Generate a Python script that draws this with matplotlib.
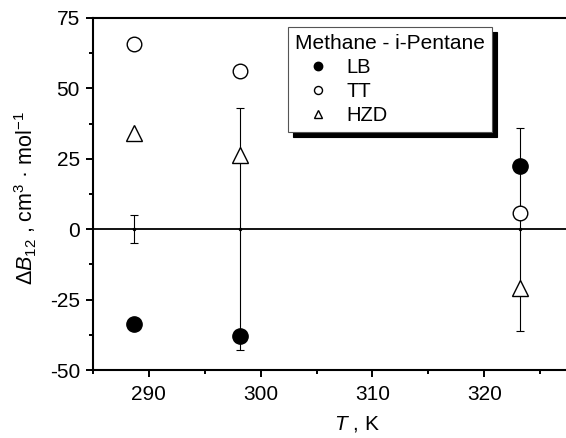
import matplotlib
matplotlib.use('Agg')
import matplotlib.pyplot as plt
from matplotlib.ticker import MultipleLocator

plt.rcParams['font.family'] = ['Liberation Sans', 'DejaVu Sans']
plt.rcParams['mathtext.fontset'] = 'custom'
plt.rcParams['mathtext.rm'] = 'Liberation Sans'
plt.rcParams['mathtext.it'] = 'Liberation Sans:italic'
plt.rcParams['axes.unicode_minus'] = False

# temperatures, K
temps = [288.7, 298.2, 323.2]

# Delta B12 deviations, cm3/mol
lb  = [-33.5, -38.0, 22.3]
tt  = [65.9, 56.1, 5.6]
hzd = [34.0, 26.2, -21.0]

# experimental uncertainty around zero
err = [5.0, 43.0, 36.0]

fig = plt.figure(figsize=(5.66, 4.38), dpi=100)
ax = fig.add_axes([0.164, 0.155, 0.836, 0.804])

ax.axhline(0, color='black', lw=1.3, zorder=1)
ax.errorbar(temps, [0] * len(temps), yerr=err, fmt='.', color='black',
            markersize=3, elinewidth=0.8, capsize=3, capthick=0.8, zorder=2)

ax.plot(temps, lb, 'o', color='black', ms=11, label='LB', zorder=3)
ax.plot(temps, tt, 'o', mfc='white', mec='black', mew=1.0, ms=10.5,
        label='TT', zorder=3)
ax.plot(temps, hzd, '^', mfc='white', mec='black', mew=1.0, ms=11.5,
        label='HZD', zorder=3)

ax.set_xlim(285, 327.3)
ax.set_ylim(-50, 75)
ax.xaxis.set_major_locator(MultipleLocator(10))
ax.xaxis.set_minor_locator(MultipleLocator(5))
ax.yaxis.set_major_locator(MultipleLocator(25))
ax.yaxis.set_minor_locator(MultipleLocator(12.5))
ax.tick_params(which='major', direction='out', length=4.8, width=1.4,
               labelsize=15)
ax.tick_params(axis='x', which='major', pad=6)
ax.tick_params(axis='y', which='major', pad=4.5)
ax.tick_params(which='minor', direction='out', length=2.8, width=1.4)
ax.spines['right'].set_visible(False)
for s in ('left', 'bottom', 'top'):
    ax.spines[s].set_linewidth(1.5)

ax.set_xlabel(r'$\mathit{T}$ , K', fontsize=15)
ax.set_ylabel(r'$\Delta\mathit{B}_{12}$ , cm$^3$ · mol$^{-1}$', fontsize=15.5)
ax.xaxis.set_label_coords(0.559, -0.125)
ax.yaxis.set_label_coords(-0.114, 0.49)

leg = ax.legend(title='Methane - i-Pentane', loc='upper left',
                bbox_to_anchor=(0.412, 0.974), borderaxespad=0,
                fontsize=14.5, title_fontsize=15, alignment='left',
                markerscale=0.55, fancybox=False, framealpha=1,
                edgecolor='#555555', handlelength=2.3, handletextpad=0.25,
                labelspacing=0.25, borderpad=0.35,
                shadow={'ox': 3.6, 'oy': -3.6, 'color': 'black', 'alpha': 1})
leg.get_frame().set_linewidth(0.8)

fig.savefig('out.png', dpi=100)
